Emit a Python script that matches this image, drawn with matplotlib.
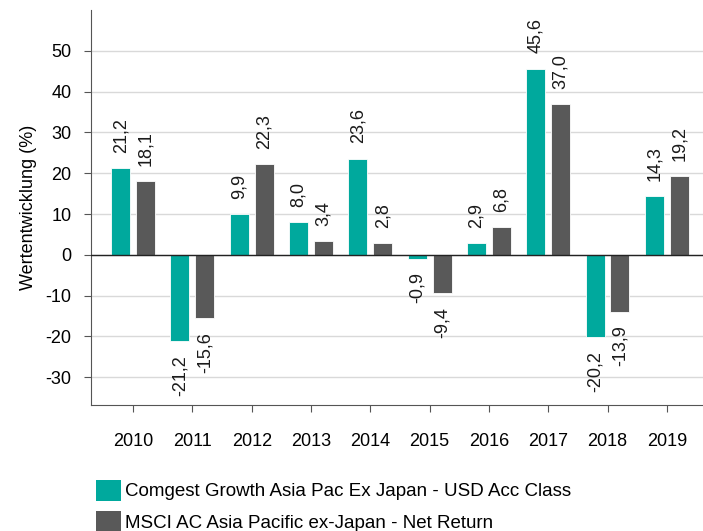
import numpy as np
import matplotlib.pyplot as plt
from matplotlib.patches import Patch

plt.rcParams['font.family'] = ['Liberation Sans', 'DejaVu Sans']
plt.rcParams['axes.unicode_minus'] = False

years = ['2010', '2011', '2012', '2013', '2014', '2015', '2016', '2017', '2018', '2019']
fund = [21.2, -21.2, 9.9, 8.0, 23.6, -0.9, 2.9, 45.6, -20.2, 14.3]
index = [18.1, -15.6, 22.3, 3.4, 2.8, -9.4, 6.8, 37.0, -13.9, 19.2]
series_names = ['Comgest Growth Asia Pac Ex Japan - USD Acc Class',
                'MSCI AC Asia Pacific ex-Japan - Net Return']
colors = ['#00A99D', '#595959']

fig = plt.figure(figsize=(7.03, 5.31), dpi=100)
ax = fig.add_axes([91 / 703, 1 - 405 / 531, 1 - 91 / 703, 395 / 531])

x = np.arange(len(years))
w = 0.32
off = 0.21

for vals, dx, c in [(fund, -off, colors[0]), (index, off, colors[1])]:
    bars = ax.bar(x + dx, vals, width=w, color=c, edgecolor='white', linewidth=0.6, zorder=3)
    for b, v in zip(bars, vals):
        txt = f'{v:.1f}'.replace('.', ',')
        ax.annotate(txt, (b.get_x() + b.get_width() / 2, v),
                    xytext=(0, 11 if v >= 0 else -10), textcoords='offset points',
                    rotation=90, ha='center', va='bottom' if v >= 0 else 'top',
                    fontsize=13, color='#1a1a1a')

ax.set_xlim(-0.71, 9.61)
ax.set_ylim(-36.8, 60)
ax.set_yticks([-30, -20, -10, 0, 10, 20, 30, 40, 50])
ax.set_xticks(x)
ax.set_xticklabels(years)
ax.yaxis.grid(True, color='#d9d9d9', linewidth=1, zorder=0)
ax.axhline(0, color='#222222', linewidth=1, zorder=4)

for s in ['top', 'right']:
    ax.spines[s].set_visible(False)
for s in ['left', 'bottom']:
    ax.spines[s].set_color('#555555')
ax.tick_params(axis='y', length=5, pad=9, labelsize=13, color='#555555')
ax.tick_params(axis='x', length=5, pad=15, labelsize=13, color='#555555')
ax.set_ylabel('Wertentwicklung (%)', fontsize=13, labelpad=6)

handles = [Patch(facecolor=c) for c in colors]
fig.legend(handles, series_names, loc='upper left', bbox_to_anchor=(88 / 703, 1 - 472 / 531),
           frameon=False, fontsize=13.5, handlelength=1.35, handleheight=1.35,
           handletextpad=0.2, labelspacing=0.55, borderaxespad=0)

fig.savefig('out.png', dpi=100)
